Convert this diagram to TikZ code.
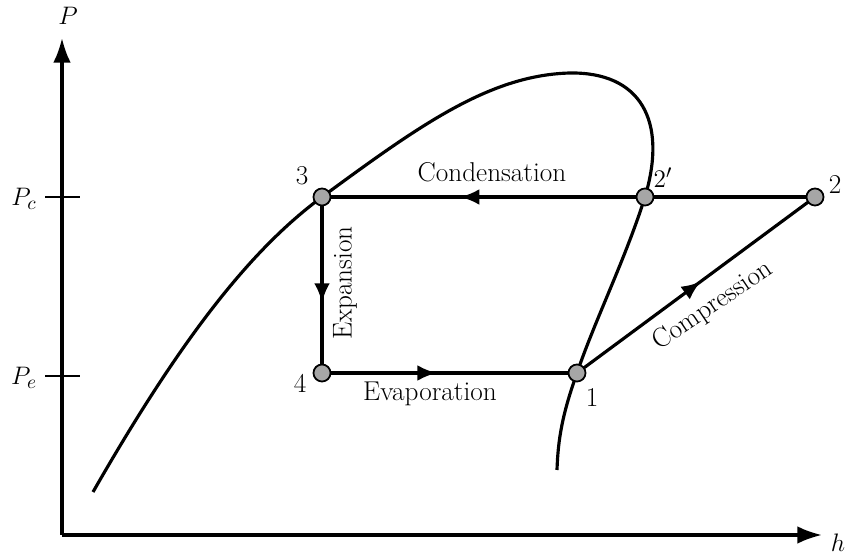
\documentclass[tikz,border=0pt]{standalone}
\usetikzlibrary{arrows.meta,decorations.markings}
\tikzset{
  state/.style={circle,draw=black,fill=gray!70,line width=1pt,inner sep=0pt,minimum size=17pt*0.57},
  path/.style={line width=1.8pt},
  lbl/.style={font=\fontsize{15.5}{18}\selectfont},
  midarrow/.style={postaction={decorate},decoration={markings,
      mark=at position #1 with {\arrow{Latex[length=11pt,width=9pt]}}}}
}
\begin{document}
\begin{tikzpicture}[x=0.02cm,y=-0.02cm]
  \useasboundingbox (0,0) rectangle (850,560);

  % axes
  \draw[path,-{Latex[length=14pt,width=10pt]}] (62,535) -- (62,38);
  \draw[path,-{Latex[length=14pt,width=10pt]}] (62,535) -- (822,535);
  \node[lbl] (P) at (68,16) {$P$};
  \node[lbl] (h) at (838,543) {$h$};

  % ticks
  \draw[line width=1.2pt] (45,197) -- (80,197);
  \draw[line width=1.2pt] (45,376) -- (80,376);
  \node[lbl] (Pc) at (24,199) {$P_c$};
  \node[lbl] (Pe) at (24,378) {$P_e$};

  % states
  \coordinate (c3) at (322,197);
  \coordinate (c2p) at (645,197);
  \coordinate (c2) at (815,197);
  \coordinate (c4) at (322,373);
  \coordinate (c1) at (577,373);

  % saturation dome
  \draw[path] (93,492) .. controls (180,340) and (250,250) .. (c3)
     .. controls (420,125) and (490,75) .. (570,73)
     .. controls (640,72) and (668,120) .. (c2p)
     .. controls (625,260) and (595,320) .. (c1)
     .. controls (562,415) and (558,440) .. (557,470);

  % cycle
  \draw[path,midarrow=0.72] (c2) -- (c3);
  \draw[path,midarrow=0.6] (c3) -- (c4);
  \draw[path,midarrow=0.45] (c4) -- (c1);
  \draw[path,midarrow=0.52] (c1) -- (c2);

  \node[state] (s3) at (c3) {};
  \node[state] (s2p) at (c2p) {};
  \node[state] (s2) at (c2) {};
  \node[state] (s4) at (c4) {};
  \node[state] (s1) at (c1) {};

  \node[lbl] (l3) at (302,176) {3};
  \node[lbl] (l2p) at (663,178) {$2'$};
  \node[lbl] (l2) at (835,185) {2};
  \node[lbl] (l4) at (300,383) {4};
  \node[lbl] (l1) at (592,398) {1};

  % labels
  \node[lbl] (cond) at (492,172) {Condensation};
  \node[lbl,rotate=90] (exp) at (345,283) {Expansion};
  \node[lbl] (evap) at (430,394) {Evaporation};
  \node[lbl,rotate=34] (comp) at (713,306) {Compression};
\end{tikzpicture}
\end{document}
